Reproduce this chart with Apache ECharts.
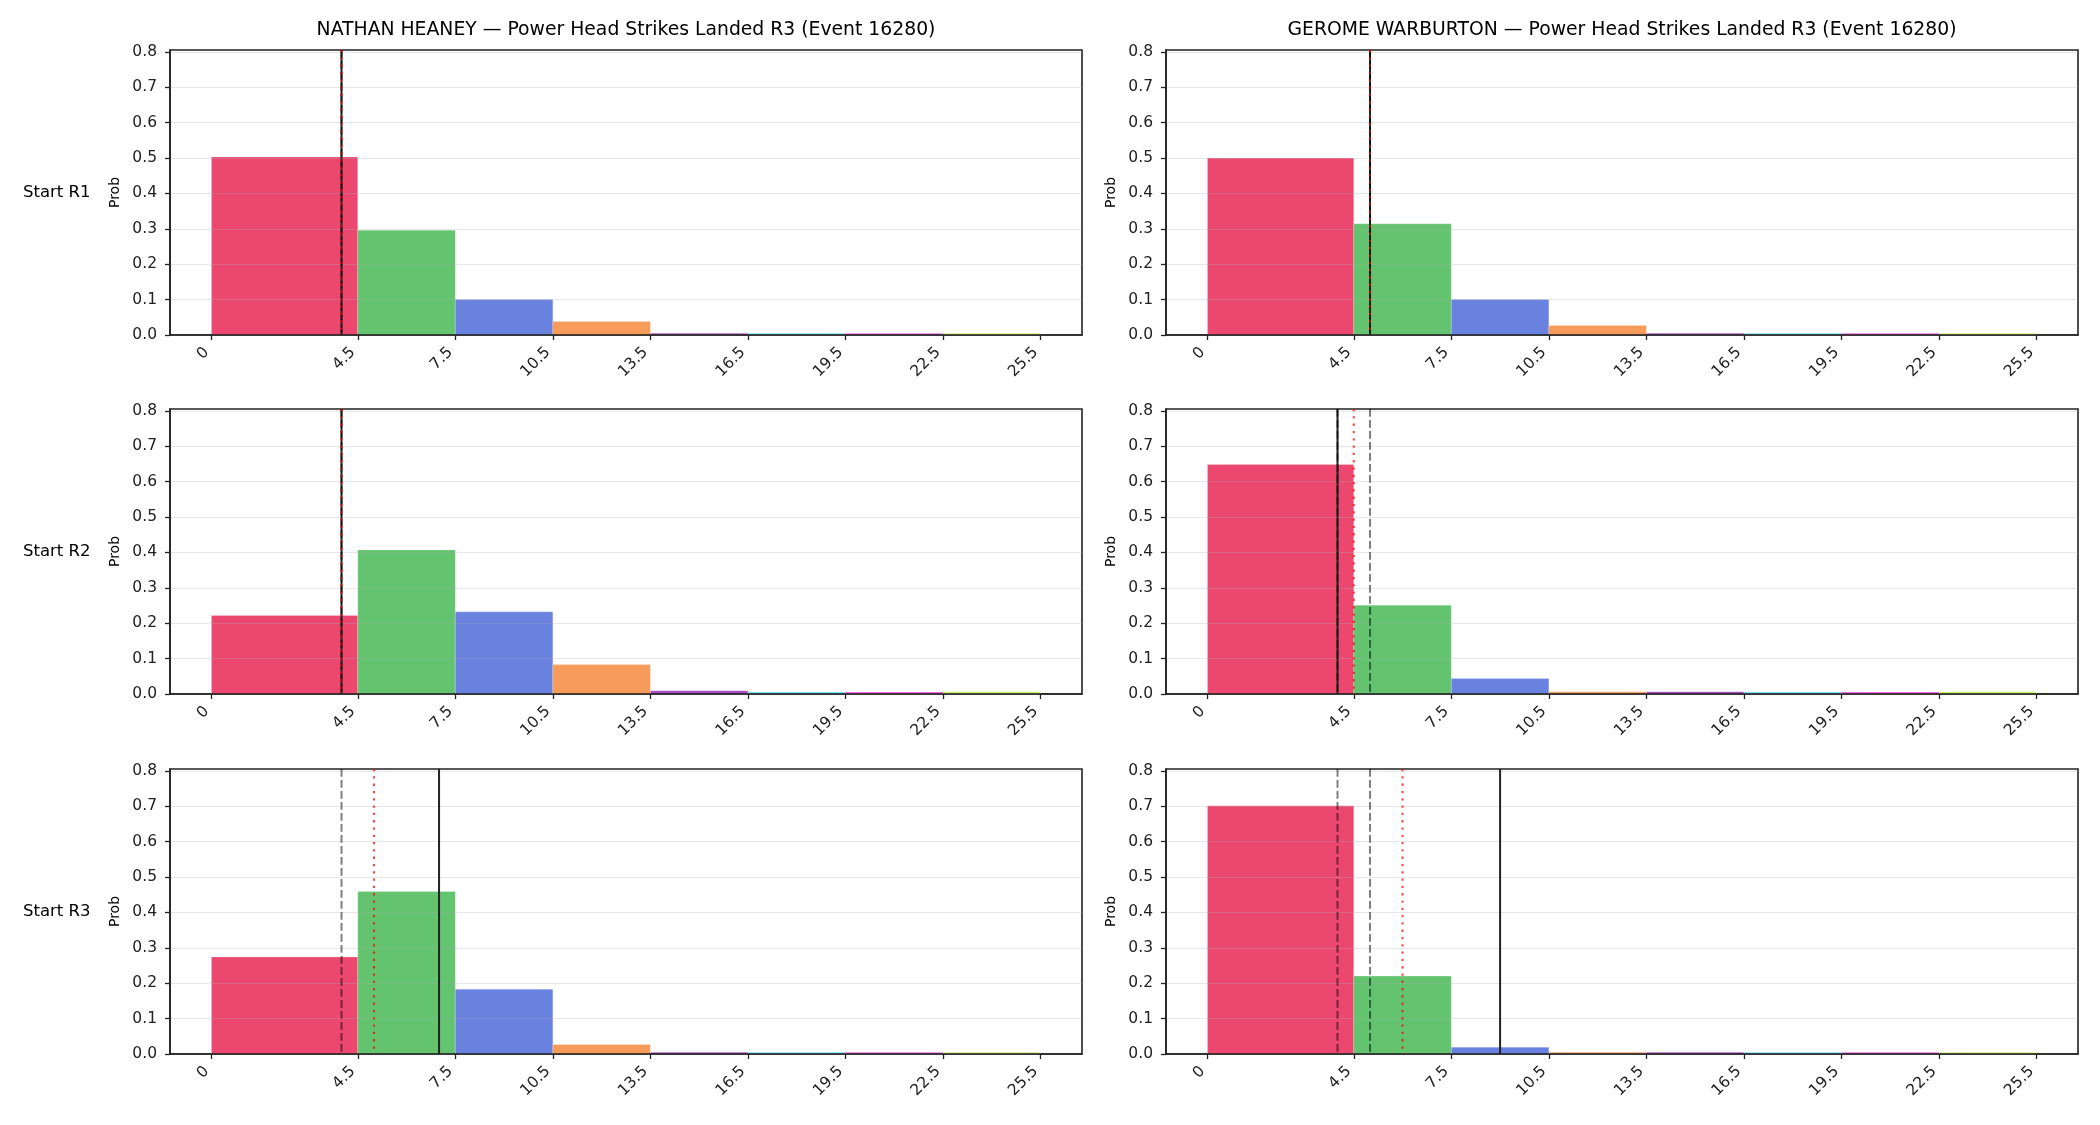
<!DOCTYPE html>
<html>
<head>
<meta charset="utf-8">
<title>Power Head Strikes Landed R3 (Event 16280)</title>
<script src="https://cdn.jsdelivr.net/npm/echarts@6/dist/echarts.min.js"></script>
<style>
  html, body { margin: 0; padding: 0; background: #fff; }
  #chart { width: 2100px; height: 1125px; }
</style>
</head>
<body>
<div id="chart"></div>
<script>
// histogram bins (strikes landed)
var binEdges = [0, 4.5, 7.5, 10.5, 13.5, 16.5, 19.5, 22.5, 25.5];
var binColors = ['#e6194b', '#3cb44b', '#4363d8', '#f58231', '#911eb4', '#42d4f4', '#f032e6', '#bfef45'];
var yTicks = [0, 0.1, 0.2, 0.3, 0.4, 0.5, 0.6, 0.7, 0.8];

var fighters = ['NATHAN HEANEY', 'GEROME WARBURTON'];
var rowLabels = ['Start R1', 'Start R2', 'Start R3'];

// probability per bin, one array per start round
var heaneyR1 = [0.503, 0.296, 0.100, 0.038, 0.005, 0.005, 0.005, 0.005];
var heaneyR2 = [0.222, 0.407, 0.232, 0.083, 0.0095, 0.006, 0.006, 0.0065];
var heaneyR3 = [0.274, 0.459, 0.183, 0.027, 0.005, 0.005, 0.005, 0.005];
var warburtonR1 = [0.500, 0.314, 0.100, 0.027, 0.005, 0.005, 0.005, 0.005];
var warburtonR2 = [0.648, 0.251, 0.0435, 0.0066, 0.0066, 0.006, 0.006, 0.0066];
var warburtonR3 = [0.701, 0.220, 0.019, 0.005, 0.005, 0.005, 0.005, 0.005];

// vertical marker lines per start round
var heaneySolid = [4, 4, 7];
var heaneyDotted = [4, 4, 5];
var heaneyDashed = [[4], [4], [4]];
var warburtonSolid = [5, 4, 9];
var warburtonDotted = [5, 4.5, 6];
var warburtonDashed = [[5], [4, 5], [4, 5]];

var probs = [[heaneyR1, heaneyR2, heaneyR3], [warburtonR1, warburtonR2, warburtonR3]];
var solids = [heaneySolid, warburtonSolid];
var dotteds = [heaneyDotted, warburtonDotted];
var dasheds = [heaneyDashed, warburtonDashed];

var FONT = 'DejaVu Sans';
var colLeft = [170, 1166];
var rowTop = [50, 409, 769];
var gw = 912, gh = 285;

var myChart = echarts.init(document.getElementById('chart'));

function renderBin(params, api) {
  var a = api.coord([api.value(0), api.value(2)]);
  var b = api.coord([api.value(1), 0]);
  return {
    type: 'rect',
    shape: { x: a[0], y: a[1], width: b[0] - a[0], height: b[1] - a[1] },
    style: { fill: binColors[params.dataIndex], stroke: 'rgba(255,255,255,0.7)', lineWidth: 0.4, opacity: 0.8 }
  };
}

function vLine(stroke, width, dash) {
  return function (params, api) {
    var cs = params.coordSys;
    var x = api.coord([api.value(0), 0])[0];
    return {
      type: 'line',
      shape: { x1: x, y1: cs.y, x2: x, y2: cs.y + cs.height },
      style: { stroke: stroke, lineWidth: width, lineDash: dash }
    };
  };
}

var grids = [], xAxes = [], yAxes = [], series = [], graphics = [];
var idx = 0;

for (var c = 0; c < 2; c++) {
  graphics.push({
    type: 'text', x: colLeft[c] + gw / 2, y: 30.5,
    style: { text: fighters[c] + ' \u2014 Power Head Strikes Landed R3 (Event 16280)',
             fontSize: 18.8, fontFamily: FONT, fill: '#000', align: 'center', verticalAlign: 'middle' }
  });
  for (var r = 0; r < 3; r++) {
    grids.push({ left: colLeft[c], top: rowTop[r], width: gw, height: gh,
                 show: true, borderColor: '#222', borderWidth: 1.6, backgroundColor: 'transparent' });
    xAxes.push({
      type: 'value', gridIndex: idx, min: -1.275, max: 26.775, z: 3,
      axisLine: { show: true, onZero: false, lineStyle: { color: '#222', width: 1.6 } },
      axisTick: { show: true, customValues: binEdges, length: 5, lineStyle: { color: '#222', width: 1.3 } },
      axisLabel: { customValues: binEdges, rotate: 45, margin: 10, padding: [0, 7, 0, 0],
                   fontSize: 15.5, fontFamily: FONT, color: '#222',
                   formatter: function (v) { return String(v); } },
      splitLine: { show: false }
    });
    yAxes.push({
      type: 'value', gridIndex: idx, min: 0, max: 0.805, interval: 0.1, z: 3,
      axisLine: { show: true, onZero: false, lineStyle: { color: '#222', width: 1.6 } },
      axisTick: { show: true, customValues: yTicks, length: 5, lineStyle: { color: '#222', width: 1.3 } },
      axisLabel: { customValues: yTicks, margin: 13, fontSize: 15.5, fontFamily: FONT, color: '#222',
                   formatter: function (v) { return v.toFixed(1); } },
      splitLine: { show: true, lineStyle: { color: 'rgba(176,176,176,0.3)', width: 1.1 } }
    });

    var binData = probs[c][r].map(function (p, i) { return [binEdges[i], binEdges[i + 1], p]; });
    series.push({
      type: 'custom', xAxisIndex: idx, yAxisIndex: idx, renderItem: renderBin,
      encode: { x: [0, 1], y: 2 }, data: binData, silent: true
    });
    series.push({
      type: 'custom', xAxisIndex: idx, yAxisIndex: idx, z: 4, silent: true,
      renderItem: vLine('#222', 2, null),
      encode: { x: 0, y: 1 }, data: [[solids[c][r], 0]]
    });
    series.push({
      type: 'custom', xAxisIndex: idx, yAxisIndex: idx, z: 4, silent: true,
      renderItem: vLine('rgba(0,0,0,0.5)', 2, [7.7, 3.3]),
      encode: { x: 0, y: 1 }, data: dasheds[c][r].map(function (v) { return [v, 0]; })
    });
    series.push({
      type: 'custom', xAxisIndex: idx, yAxisIndex: idx, z: 4, silent: true,
      renderItem: vLine('rgba(255,0,0,0.75)', 2, [2.3, 5]),
      encode: { x: 0, y: 1 }, data: [[dotteds[c][r], 0]]
    });

    // "Prob" y label
    graphics.push({
      type: 'text', x: colLeft[c] - 54.5, y: rowTop[r] + gh / 2, rotation: Math.PI / 2,
      style: { text: 'Prob', fontSize: 14, fontFamily: FONT, fill: '#000', align: 'center', verticalAlign: 'middle' }
    });
    if (c === 0) {
      graphics.push({
        type: 'text', x: 23, y: rowTop[r] + gh / 2,
        style: { text: rowLabels[r], fontSize: 16.5, fontFamily: FONT, fill: '#000', align: 'left', verticalAlign: 'middle' }
      });
    }
    idx++;
  }
}

var option = {
  backgroundColor: '#fff',
  animation: false,
  grid: grids,
  xAxis: xAxes,
  yAxis: yAxes,
  series: series,
  graphic: graphics
};

option && myChart.setOption(option);
</script>
</body>
</html>
